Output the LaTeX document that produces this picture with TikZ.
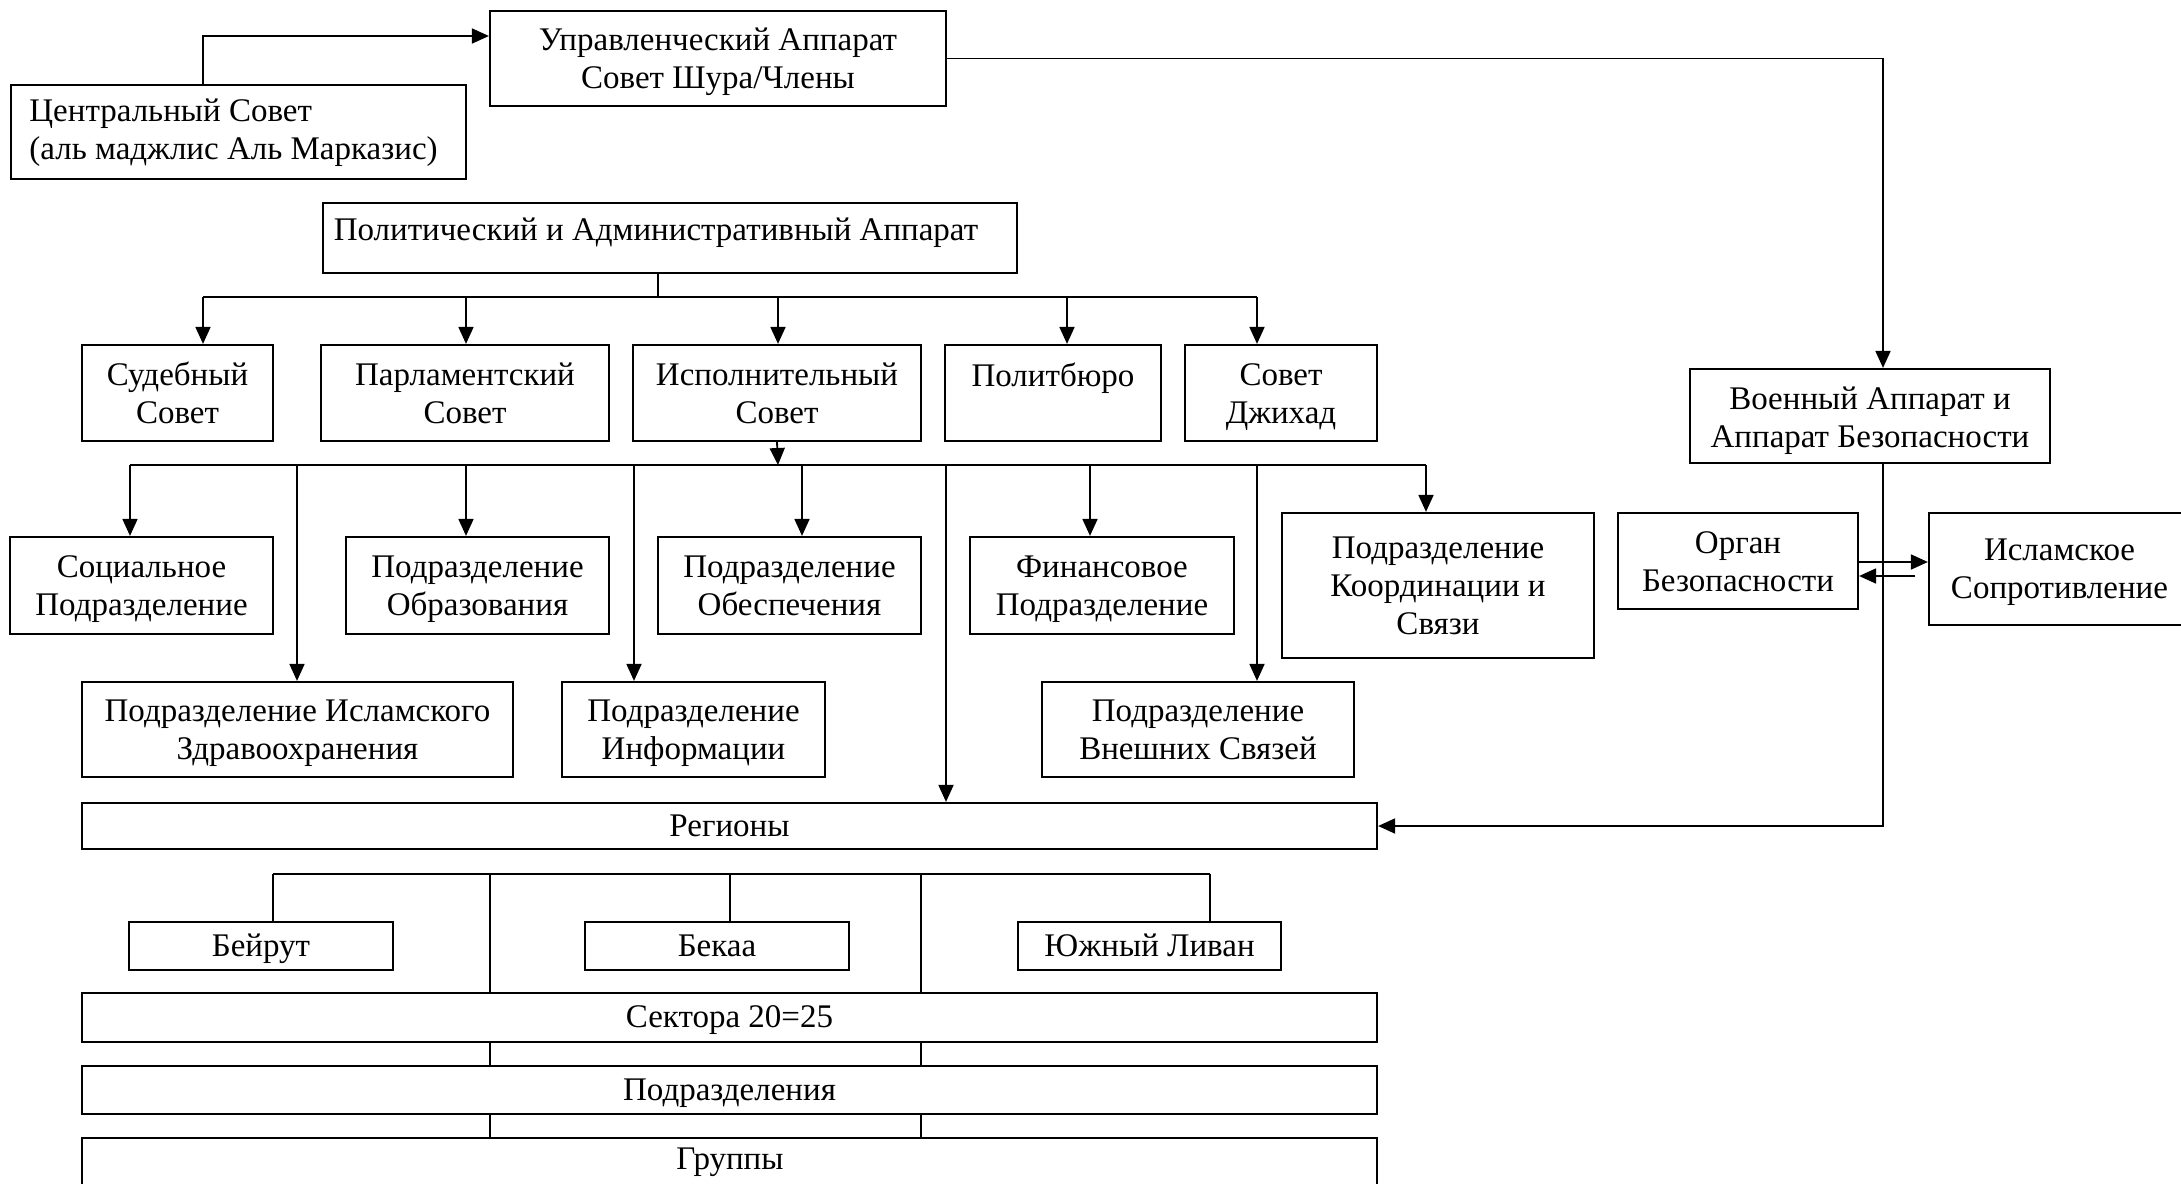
\documentclass[tikz,border=0pt]{standalone}
\usepackage{fontspec}
\setmainfont{Liberation Serif}
\usetikzlibrary{arrows.meta,fit}
\begin{document}
\begin{tikzpicture}[x=0.5pt,y=-0.5pt,
  box/.style={draw, line width=1.1pt, inner sep=0pt},
  txt/.style={inner sep=0pt, align=center, font=\fontsize{16.5}{19}\selectfont},
  lab/.style={label={[txt, execute at begin node=\strut, execute at end node=\strut, yshift=-1.2pt]center:{#1}}},
  labm/.style={label={[txt, execute at begin node=\strut, execute at end node=\strut, yshift=-2.9pt]center:{#1}}},
  ln/.style={line width=0.9pt},
  bus/.style={line width=1.2pt},
  arr/.style={line width=0.9pt, -{Triangle[length=8.5pt,width=7.5pt]}}]
\useasboundingbox (0,0) rectangle (2181,1184);
\fill[white] (0,0) rectangle (2181,1184);

% top
\node[box, fit={(11,85) (466,179)}] (cs) {};
\node[txt, anchor=west, align=left] (cst) at (29,133) {Центральный Совет\\(аль маджлис Аль Марказис)};
\node[box, fit={(490,11) (946,106)}, labm={Управленческий Аппарат\\Совет Шура/Члены}] (upr) {};
\node[box, fit={(323,203) (1017,273)}] (pol) {};
\node[txt] (polt) at (656,233) {Политический и Административный Аппарат};

% row 2
\node[box, fit={(82,345) (273,441)}, labm={Судебный\\Совет}] (sud) {};
\node[box, fit={(321,345) (609,441)}, labm={Парламентский\\Совет}] (par) {};
\node[box, fit={(633,345) (921,441)}, labm={Исполнительный\\Совет}] (isp) {};
\node[box, fit={(945,345) (1161,441)}] (plb) {};
\node[txt] (plbt) at (1053,378) {Политбюро};
\node[box, fit={(1185,345) (1377,441)}, labm={Совет\\Джихад}] (jih) {};

% row 3
\node[box, fit={(10,537) (273,634)}, labm={Социальное\\Подразделение}] (soc) {};
\node[box, fit={(346,537) (609,634)}, labm={Подразделение\\Образования}] (obr) {};
\node[box, fit={(658,537) (921,634)}, labm={Подразделение\\Обеспечения}] (obe) {};
\node[box, fit={(970,537) (1234,634)}, labm={Финансовое\\Подразделение}] (fin) {};
\node[box, fit={(1282,513) (1594,658)}, labm={Подразделение\\Координации и\\Связи}] (koo) {};

% row 4
\node[box, fit={(82,682) (513,777)}, labm={Подразделение Исламского\\Здравоохранения}] (zdr) {};
\node[box, fit={(562,682) (825,777)}, labm={Подразделение\\Информации}] (inf) {};
\node[box, fit={(1042,682) (1354,777)}, labm={Подразделение\\Внешних Связей}] (vne) {};

\node[box, fit={(82,803) (1377,849)}, lab={Регионы}] (reg) {};

% military
\node[box, fit={(1690,369) (2050,463)}] (mil) {};
\node[txt] (milt) at (1870,421) {Военный Аппарат и\\Аппарат Безопасности};
\node[box, fit={(1618,513) (1858,609)}, labm={Орган\\Безопасности}] (org) {};
\node[box, fit={(1929,513) (2190,625)}, labm={Исламское\\Сопротивление}] (isl) {};

% lower
\node[box, fit={(129,922) (393,970)}, lab={Бейрут}] (bei) {};
\node[box, fit={(585,922) (849,970)}, lab={Бекаа}] (bek) {};
\node[box, fit={(1018,922) (1281,970)}, lab={Южный Ливан}] (yuz) {};
\node[box, fit={(82,993) (1377,1042)}, lab={Сектора 20=25}] (sek) {};
\node[box, fit={(82,1066) (1377,1114)}, lab={Подразделения}] (pod) {};
\node[box, fit={(82,1138) (1377,1186)}] (gru) {};
\node[txt] (grut) at (730,1162) {Группы};

% connectors top
\coordinate (c1) at (203,36);
\coordinate (c2) at (1883,60);
\draw[arr] (cs.north -| c1) |- (upr.west |- c1);
\draw[arr] (upr.east) -| (mil.north -| c2);

% political bus
\coordinate (b1) at (658,297);
\draw[ln] (pol.south -| b1) -- (b1);
\draw[bus] (203,297) -- (1257,297);
\foreach \x/\t in {203/sud,466/par,778/isp,1067/plb,1257/jih}
  \draw[arr] (\x,297) -- (\t.north -| \x,297);

% executive bus
\coordinate (b2) at (778,465);
\draw[arr] (isp.south) -- (b2);
\draw[bus] (130,465) -- (1426,465);
\foreach \x/\t in {130/soc,297/zdr,466/obr,634/inf,802/obe,946/reg,1090/fin,1257/vne,1426/koo}
  \draw[arr] (\x,465) -- (\t.north -| \x,465);

% military links
\draw[arr] (mil.south -| c2) |- (reg.east);
\draw[arr] (org.east |- 0,562) -- (isl.west |- 0,562);
\coordinate (c3) at (1915,576);
\draw[arr] (c3) -- (org.east |- c3);

% lower bus
\draw[bus] (273,874) -- (1210,874);
\draw[ln] (273,874) -- (bei.north -| 273,0);
\draw[ln] (730,874) -- (bek.north -| 730,0);
\draw[ln] (1210,874) -- (yuz.north -| 1210,0);
\foreach \x in {490,921} {
  \draw[ln] (\x,874) -- (sek.north -| \x,0);
  \draw[ln] (sek.south -| \x,0) -- (pod.north -| \x,0);
  \draw[ln] (pod.south -| \x,0) -- (gru.north -| \x,0);
}
\end{tikzpicture}
\end{document}
